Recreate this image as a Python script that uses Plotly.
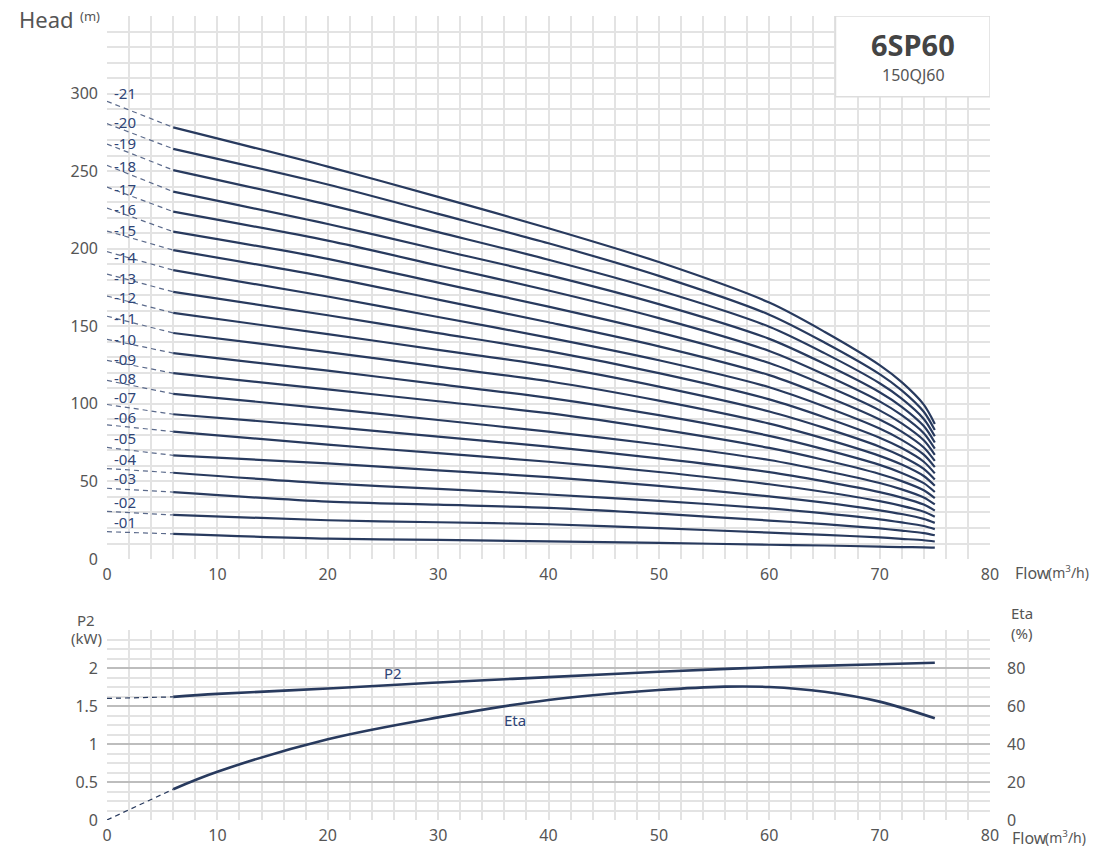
import plotly.graph_objects as go

# ---------------- data ----------------
stage_names = [f"-{i:02d}" for i in range(1, 22)]
head_flow = [6, 20, 30, 40, 50, 60, 65, 70, 72, 74, 75]
shutoff_head = [17.6, 30.7, 45.6, 58.3, 71.9, 86.5, 99.6, 115.1, 128.0, 141.6, 156.5,
                169.5, 183.7, 198.1, 211.4, 226.2, 239.7, 253.7, 267.5, 280.6, 295.0]
head_q6 = [16.2, 28.4, 43.1, 55.6, 66.8, 82.1, 93.3, 106.5, 119.8, 132.7, 145.7,
           158.6, 172.2, 186.2, 199.1, 211.0, 223.9, 236.8, 250.7, 264.4, 278.2]
head_q20 = [13.1, 25.0, 37.0, 48.7, 61.6, 73.7, 85.3, 97.0, 109.3, 121.4, 133.4,
            145.0, 157.1, 169.2, 181.7, 193.5, 205.2, 215.9, 228.4, 241.4, 252.9]
head_q30 = [12.3, 23.7, 35.0, 45.2, 57.2, 68.2, 78.9, 89.6, 101.7, 112.7, 124.0,
            134.8, 145.6, 156.0, 167.2, 178.1, 189.2, 199.5, 210.7, 222.5, 233.4]
head_q40 = [11.4, 22.4, 33.0, 41.6, 52.8, 62.7, 72.4, 82.1, 94.0, 103.9, 114.6,
            124.6, 134.0, 142.7, 152.6, 162.7, 173.1, 183.0, 192.9, 203.5, 213.2]
head_q50 = [10.4, 19.9, 29.2, 37.5, 47.1, 56.1, 64.9, 73.8, 83.7, 92.7, 102.1,
            111.1, 119.8, 128.1, 137.1, 146.1, 155.3, 164.3, 173.2, 182.5, 191.4]
head_q60 = [9.2, 17.0, 24.8, 32.6, 40.4, 48.2, 56.0, 63.8, 71.6, 79.4, 87.3,
            95.1, 102.9, 110.7, 118.5, 126.3, 134.1, 141.9, 149.7, 157.5, 165.3]
head_q65 = [8.7, 15.6, 22.5, 29.4, 36.3, 43.2, 50.0, 56.9, 63.8, 70.7, 77.6,
            84.5, 91.4, 98.3, 105.2, 112.1, 118.9, 125.8, 132.7, 139.6, 146.5]
head_q70 = [8.0, 13.9, 19.7, 25.6, 31.4, 37.3, 43.1, 49.0, 54.8, 60.7, 66.5,
            72.4, 78.2, 84.1, 89.9, 95.8, 101.6, 107.5, 113.3, 119.2, 125.0]
head_q72 = [7.7, 13.0, 18.3, 23.6, 29.0, 34.3, 39.6, 44.9, 50.2, 55.5, 60.9,
            66.2, 71.5, 76.8, 82.1, 87.4, 92.7, 98.1, 103.4, 108.7, 114.0]
head_q74 = [7.5, 12.1, 16.7, 21.3, 25.9, 30.5, 35.1, 39.7, 44.3, 48.9, 53.5,
            58.1, 62.7, 67.3, 71.9, 76.5, 81.1, 85.7, 90.3, 94.9, 99.5]
head_q75 = [7.3, 11.3, 15.3, 19.3, 23.3, 27.3, 31.2, 35.2, 39.2, 43.2, 47.2,
            51.2, 55.2, 59.2, 63.2, 67.2, 71.1, 75.1, 79.1, 83.1, 87.1]
stage_label_head = [24.0, 36.9, 52.0, 64.3, 77.8, 91.7, 104.2, 116.6, 129.0, 141.8, 155.2,
                    169.1, 181.1, 194.7, 212.1, 225.4, 238.5, 253.5, 267.9, 281.9, 300.6]

p2_flow = [6, 10, 20, 30, 40, 50, 60, 70, 75]
p2_kw = [1.62, 1.66, 1.73, 1.81, 1.88, 1.95, 2.01, 2.05, 2.07]
p2_shutoff = 1.60
eta_flow = [6, 10, 20, 30, 40, 50, 56, 60, 65, 70, 75]
eta_pct = [16.2, 25.4, 42.5, 54.0, 63.2, 68.4, 70.2, 70.0, 67.5, 62.3, 53.5]
eta_shutoff = 0.0

x_ticks = [0, 10, 20, 30, 40, 50, 60, 70, 80]
head_ticks = [0, 50, 100, 150, 200, 250, 300]
p2_ticks = [0, 0.5, 1, 1.5, 2]
p2_ticktext = ["0", "0.5", "1", "1.5", "2"]
eta_ticks = [0, 20, 40, 60, 80]

# ---------------- style ----------------
CURVE = "#283a5e"
DASH = "#5b6a8b"
LABEL = "#2f4577"
TXT = "#555555"
GRID = "#e3e3e3"
MAJOR = "#bdbdbd"
FONT = "Noto Sans"

fig = go.Figure()

head_cols = [head_q6, head_q20, head_q30, head_q40, head_q50, head_q60, head_q65,
             head_q70, head_q72, head_q74, head_q75]
for i in range(21):
    ys = [col[i] for col in head_cols]
    fig.add_trace(go.Scatter(x=[0, head_flow[0]], y=[shutoff_head[i], ys[0]], mode="lines",
                             line=dict(color=DASH, width=1.2, dash="5px,4px"),
                             xaxis="x", yaxis="y", hoverinfo="skip", showlegend=False))
    fig.add_trace(go.Scatter(x=head_flow, y=ys, mode="lines",
                             line=dict(color=CURVE, width=2.2, shape="spline", smoothing=0.8),
                             xaxis="x", yaxis="y", name=stage_names[i], showlegend=False))

# lower chart
fig.add_trace(go.Scatter(x=[0, p2_flow[0]], y=[p2_shutoff, p2_kw[0]], mode="lines",
                         line=dict(color=CURVE, width=1.2, dash="5px,4px"),
                         xaxis="x2", yaxis="y2", showlegend=False, hoverinfo="skip"))
fig.add_trace(go.Scatter(x=p2_flow, y=p2_kw, mode="lines",
                         line=dict(color=CURVE, width=2.6, shape="spline"),
                         xaxis="x2", yaxis="y2", name="P2", showlegend=False))
fig.add_trace(go.Scatter(x=[0, eta_flow[0]], y=[eta_shutoff, eta_pct[0]], mode="lines",
                         line=dict(color=CURVE, width=1.2, dash="5px,4px"),
                         xaxis="x2", yaxis="y3", showlegend=False, hoverinfo="skip"))
fig.add_trace(go.Scatter(x=eta_flow, y=eta_pct, mode="lines",
                         line=dict(color=CURVE, width=2.6, shape="spline"),
                         xaxis="x2", yaxis="y3", name="Eta", showlegend=False))

tickfont = dict(family=FONT, size=16, color=TXT)

common_x = dict(range=[0, 80], tickvals=x_ticks, showgrid=True, gridcolor=GRID, gridwidth=1.5,
                minor=dict(dtick=2, showgrid=True, gridcolor=GRID, gridwidth=1.5),
                zeroline=False, showline=False, ticks="", tickfont=tickfont,
                ticklabelstandoff=4, fixedrange=True, automargin=False)

annotations = []
for i in range(21):
    annotations.append(dict(x=0.45, y=stage_label_head[i], xref="x", yref="y", text=stage_names[i],
                            showarrow=False, xanchor="left", yanchor="middle",
                            font=dict(family=FONT, size=15, color=LABEL)))


def px_x(px):
    return (px - 107) / 883.0


def px_y(py):
    return (820 - py) / 804.0


def txt(x, y, s, size, color=TXT, anchor="center", bold=False):
    annotations.append(dict(x=px_x(x), y=px_y(y), xref="paper", yref="paper",
                            text=f"<b>{s}</b>" if bold else s, showarrow=False,
                            xanchor=anchor, yanchor="middle",
                            font=dict(family=FONT, size=size, color=color)))


txt(46, 19, "Head", 22)
txt(90, 16, "(m)", 13)
txt(1013, 573, "Flow", 16, anchor="left")
txt(1046, 572, "(m<sup>3</sup>/h)", 14, anchor="left")
txt(1010, 838, "Flow", 16, anchor="left")
txt(1043, 837, "(m<sup>3</sup>/h)", 14, anchor="left")
txt(86, 620, "P2", 15)
txt(86, 638, "(kW)", 15)
txt(1022, 613, "Eta", 15)
txt(1021, 633, "(%)", 15)
txt(913, 45, "6SP60", 29, color="#444444", bold=True)
txt(913, 75, "150QJ60", 16, color="#555555")

annotations.append(dict(x=25.9, y=1.93, xref="x2", yref="y2", text="P2", showarrow=False,
                        font=dict(family=FONT, size=15, color=LABEL)))
annotations.append(dict(x=37.0, y=1.32, xref="x2", yref="y2", text="Eta", showarrow=False,
                        font=dict(family=FONT, size=15, color=LABEL)))

shapes = [dict(type="rect", xref="x", yref="y", x0=66.0, x1=80.0, y0=298, y1=350,
               fillcolor="white", line=dict(color="#dddddd", width=1.5), layer="above")]

fig.update_layout(
    width=1097, height=853,
    margin=dict(l=107, r=107, t=16, b=33, autoexpand=False),
    paper_bgcolor="white", plot_bgcolor="white",
    showlegend=False,
    xaxis=dict(domain=[0, 1], anchor="y", **common_x),
    yaxis=dict(domain=[0.3246, 1], anchor="x", range=[0, 350], tickvals=head_ticks,
               showgrid=True, gridcolor=GRID, gridwidth=1.5,
               minor=dict(dtick=10, showgrid=True, gridcolor=GRID, gridwidth=1.5),
               zeroline=False, showline=False, ticks="", tickfont=tickfont,
               ticklabelstandoff=8, fixedrange=True, automargin=False),
    xaxis2=dict(domain=[0, 1], anchor="y2", **common_x),
    yaxis2=dict(domain=[0, 0.2363], anchor="x2", range=[0, 2.5], tickvals=p2_ticks,
                ticktext=p2_ticktext, showgrid=True, gridcolor=MAJOR, gridwidth=2,
                minor=dict(dtick=0.125, showgrid=True, gridcolor=GRID, gridwidth=1.5),
                zeroline=False, showline=False, ticks="", tickfont=tickfont,
                ticklabelstandoff=8, fixedrange=True, automargin=False),
    yaxis3=dict(overlaying="y2", anchor="x2", side="right", range=[0, 100], tickvals=eta_ticks,
                showgrid=False, zeroline=False, showline=False, ticks="", tickfont=tickfont,
                ticklabelstandoff=16, fixedrange=True, automargin=False),
    annotations=annotations,
    shapes=shapes,
)

fig.write_html("out.html", config={"displayModeBar": False},
               post_script="document.body.style.margin='0';document.body.style.overflow='hidden';")
